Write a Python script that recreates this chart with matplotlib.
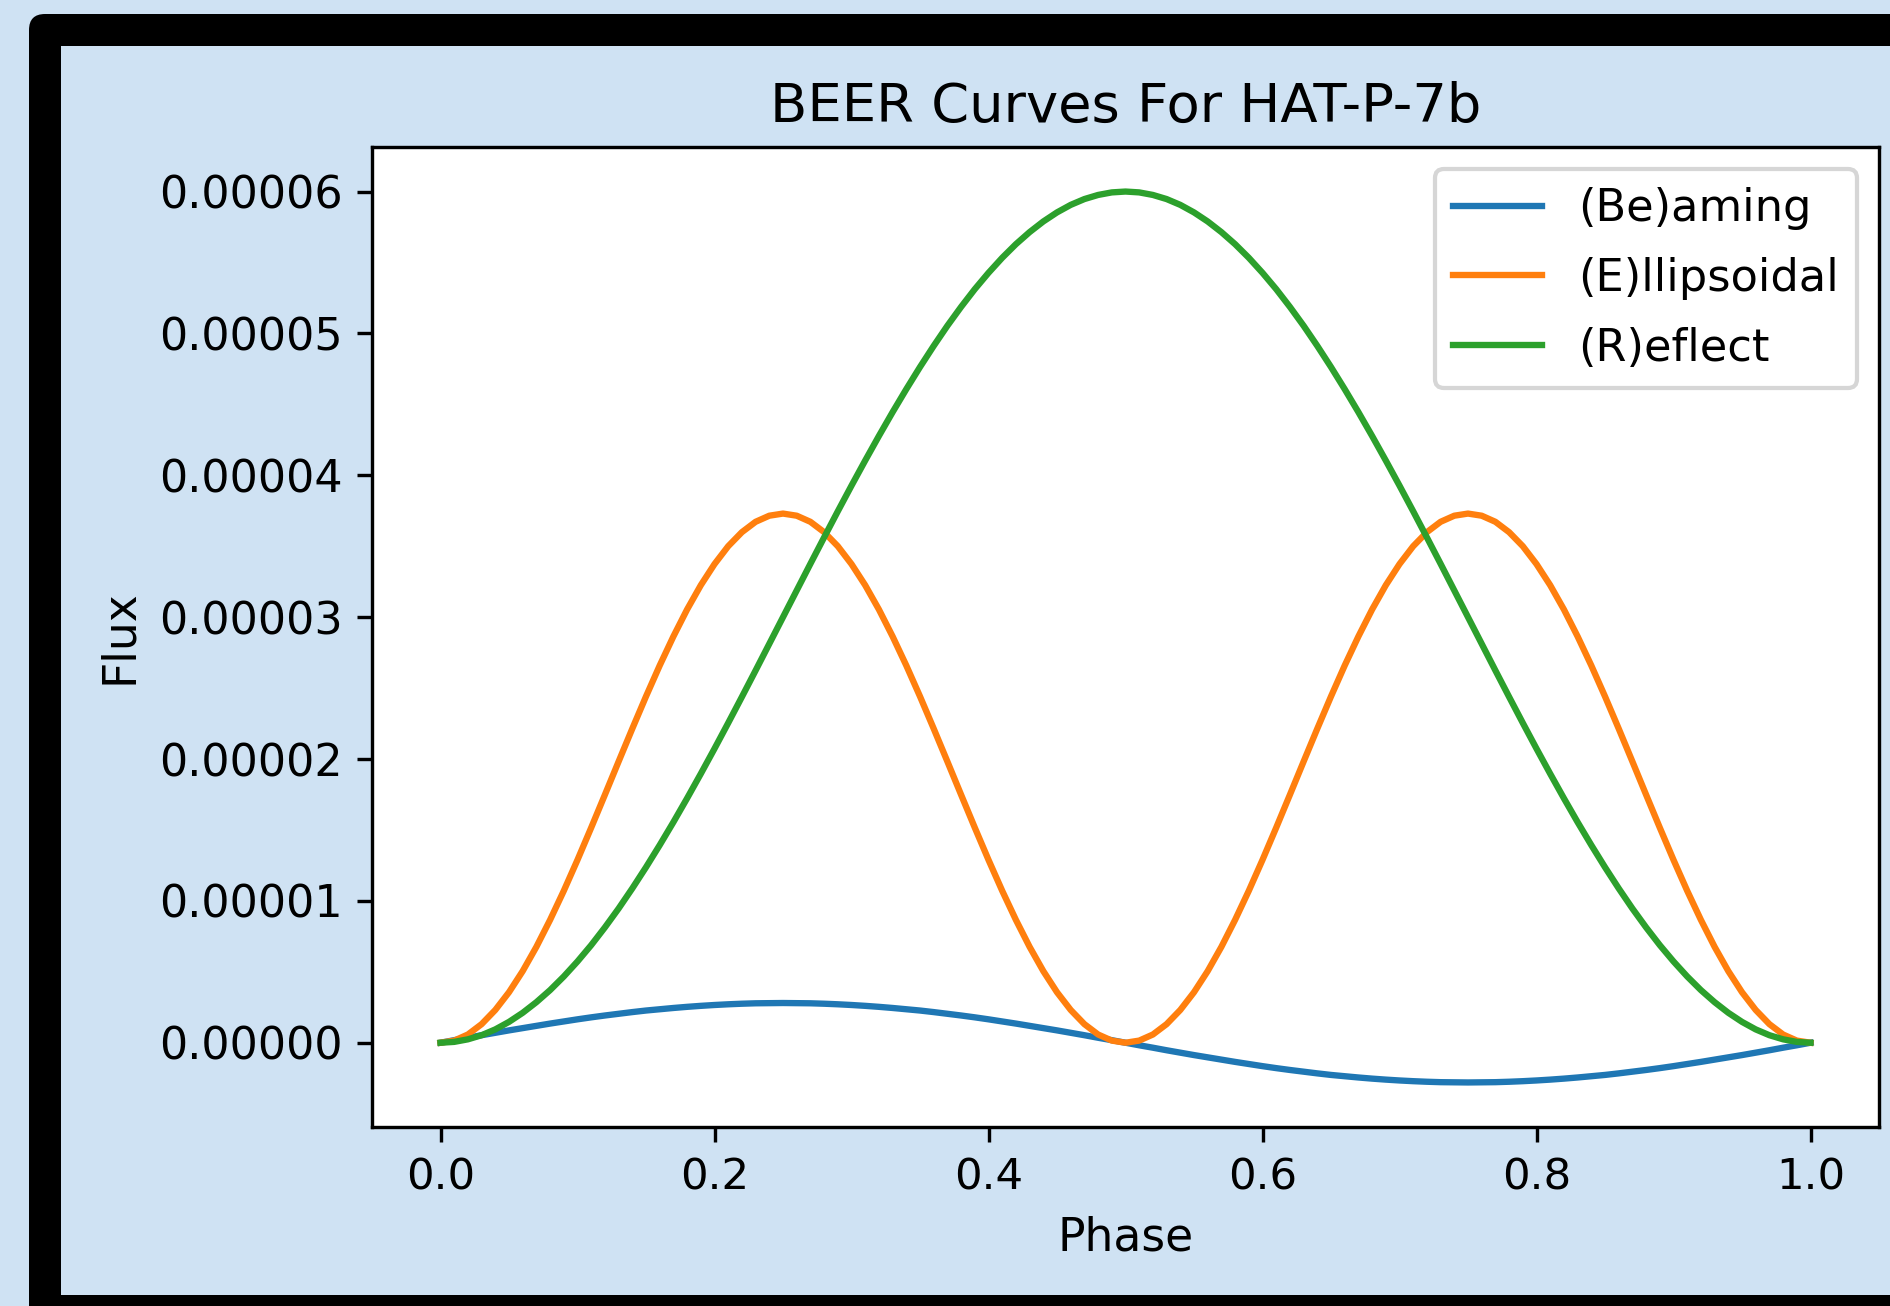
import numpy as np
import matplotlib
matplotlib.use("Agg")
import matplotlib.pyplot as plt
from matplotlib.patches import FancyBboxPatch, Rectangle
from matplotlib.ticker import FormatStrFormatter

# phase grid and curves (flux in units of 1e-5)
phase = [0.00, 0.01, 0.02, 0.03, 0.04, 0.05, 0.06, 0.07, 0.08, 0.09,
         0.10, 0.11, 0.12, 0.13, 0.14, 0.15, 0.16, 0.17, 0.18, 0.19,
         0.20, 0.21, 0.22, 0.23, 0.24, 0.25, 0.26, 0.27, 0.28, 0.29,
         0.30, 0.31, 0.32, 0.33, 0.34, 0.35, 0.36, 0.37, 0.38, 0.39,
         0.40, 0.41, 0.42, 0.43, 0.44, 0.45, 0.46, 0.47, 0.48, 0.49,
         0.50, 0.51, 0.52, 0.53, 0.54, 0.55, 0.56, 0.57, 0.58, 0.59,
         0.60, 0.61, 0.62, 0.63, 0.64, 0.65, 0.66, 0.67, 0.68, 0.69,
         0.70, 0.71, 0.72, 0.73, 0.74, 0.75, 0.76, 0.77, 0.78, 0.79,
         0.80, 0.81, 0.82, 0.83, 0.84, 0.85, 0.86, 0.87, 0.88, 0.89,
         0.90, 0.91, 0.92, 0.93, 0.94, 0.95, 0.96, 0.97, 0.98, 0.99,
         1.00]

beaming = [0.000, 0.018, 0.035, 0.053, 0.070, 0.087, 0.103, 0.119, 0.135, 0.150,
           0.165, 0.179, 0.192, 0.204, 0.216, 0.227, 0.236, 0.245, 0.253, 0.260,
           0.266, 0.271, 0.275, 0.278, 0.279, 0.280, 0.279, 0.278, 0.275, 0.271,
           0.266, 0.260, 0.253, 0.245, 0.236, 0.227, 0.216, 0.204, 0.192, 0.179,
           0.165, 0.150, 0.135, 0.119, 0.103, 0.087, 0.070, 0.053, 0.035, 0.018,
           0.000, -0.018, -0.035, -0.053, -0.070, -0.087, -0.103, -0.119, -0.135, -0.150,
           -0.165, -0.179, -0.192, -0.204, -0.216, -0.227, -0.236, -0.245, -0.253, -0.260,
           -0.266, -0.271, -0.275, -0.278, -0.279, -0.280, -0.279, -0.278, -0.275, -0.271,
           -0.266, -0.260, -0.253, -0.245, -0.236, -0.227, -0.216, -0.204, -0.192, -0.179,
           -0.165, -0.150, -0.135, -0.119, -0.103, -0.087, -0.070, -0.053, -0.035, -0.018,
           0.000]

ellipsoidal = [0.000, 0.015, 0.058, 0.131, 0.231, 0.356, 0.505, 0.676, 0.866, 1.071,
               1.289, 1.516, 1.748, 1.982, 2.214, 2.441, 2.659, 2.864, 3.054, 3.225,
               3.374, 3.500, 3.599, 3.672, 3.715, 3.730, 3.715, 3.672, 3.599, 3.500,
               3.374, 3.225, 3.054, 2.864, 2.659, 2.441, 2.214, 1.982, 1.748, 1.516,
               1.289, 1.071, 0.866, 0.676, 0.505, 0.356, 0.231, 0.131, 0.058, 0.015,
               0.000, 0.015, 0.058, 0.131, 0.231, 0.356, 0.505, 0.676, 0.866, 1.071,
               1.289, 1.516, 1.748, 1.982, 2.214, 2.441, 2.659, 2.864, 3.054, 3.225,
               3.374, 3.500, 3.599, 3.672, 3.715, 3.730, 3.715, 3.672, 3.599, 3.500,
               3.374, 3.225, 3.054, 2.864, 2.659, 2.441, 2.214, 1.982, 1.748, 1.516,
               1.289, 1.071, 0.866, 0.676, 0.505, 0.356, 0.231, 0.131, 0.058, 0.015,
               0.000]

reflect = [0.000, 0.006, 0.024, 0.053, 0.094, 0.147, 0.211, 0.286, 0.371, 0.467,
           0.573, 0.688, 0.813, 0.946, 1.088, 1.237, 1.393, 1.555, 1.723, 1.896,
           2.073, 2.254, 2.438, 2.624, 2.812, 3.000, 3.188, 3.376, 3.562, 3.746,
           3.927, 4.104, 4.277, 4.445, 4.607, 4.763, 4.912, 5.054, 5.187, 5.312,
           5.427, 5.533, 5.629, 5.714, 5.789, 5.853, 5.906, 5.947, 5.976, 5.994,
           6.000, 5.994, 5.976, 5.947, 5.906, 5.853, 5.789, 5.714, 5.629, 5.533,
           5.427, 5.312, 5.187, 5.054, 4.912, 4.763, 4.607, 4.445, 4.277, 4.104,
           3.927, 3.746, 3.562, 3.376, 3.188, 3.000, 2.812, 2.624, 2.438, 2.254,
           2.073, 1.896, 1.723, 1.555, 1.393, 1.237, 1.088, 0.946, 0.813, 0.688,
           0.573, 0.467, 0.371, 0.286, 0.211, 0.147, 0.094, 0.053, 0.024, 0.006,
           0.000]

labels = ['(Be)aming', '(E)llipsoidal', '(R)eflect']

W, H, DPI = 1890, 1306, 304
BG = '#cfe2f3'

plt.rcParams['xtick.labelsize'] = 10.3
plt.rcParams['ytick.labelsize'] = 10.5
plt.rcParams['legend.fontsize'] = 10.6
plt.rcParams['legend.labelspacing'] = 0.6
plt.rcParams['axes.labelsize'] = 10.8
plt.rcParams['axes.titlesize'] = 12.9

fig = plt.figure(figsize=(W / DPI, H / DPI), dpi=DPI, facecolor=BG)

# black frame with rounded outer corner, cropped on right and bottom
px = lambda v: v / DPI
frame = FancyBboxPatch((px(29), px(-60)), px(2000), px(1292 + 60),
                       boxstyle="round,pad=0,rounding_size=%f" % px(16),
                       transform=fig.dpi_scale_trans, facecolor='black',
                       edgecolor='none', zorder=-10)
fig.add_artist(frame)
inner = Rectangle((px(61), px(11)), px(2000), px(1260 - 11),
                  transform=fig.dpi_scale_trans, facecolor=BG,
                  edgecolor='none', zorder=-9)
fig.add_artist(inner)

ax = fig.add_axes([372 / W, 1 - 1127 / H, (1879 - 372) / W, (1127 - 147) / H])

x = np.array(phase)
ax.plot(x, np.array(beaming) * 1e-5, label=labels[0])
ax.plot(x, np.array(ellipsoidal) * 1e-5, label=labels[1])
ax.plot(x, np.array(reflect) * 1e-5, label=labels[2])

ax.yaxis.set_major_formatter(FormatStrFormatter('%.5f'))
ax.set_title('BEER Curves For HAT-P-7b')
ax.set_xlabel('Phase')
ax.set_ylabel('Flux')
ax.legend(loc='upper right')

fig.savefig('out.png', dpi=DPI, facecolor=BG)
